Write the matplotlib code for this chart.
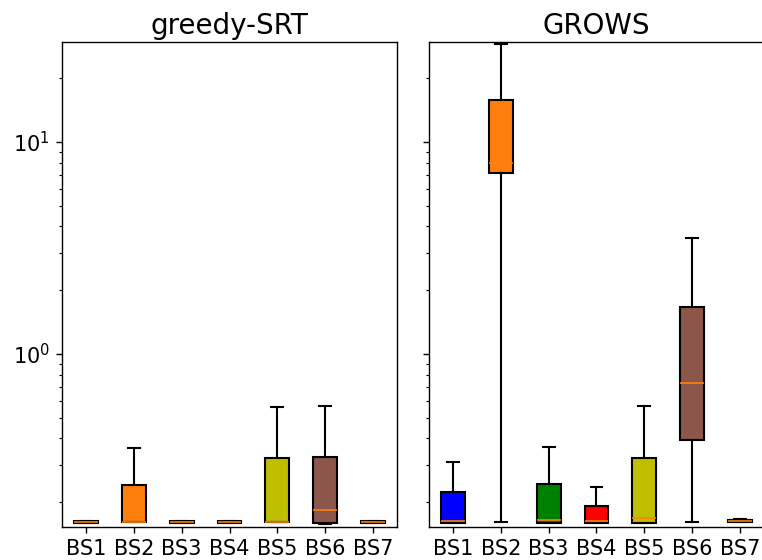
import matplotlib
matplotlib.use('Agg')
from matplotlib import pyplot as plt

labels = ['BS1', 'BS2', 'BS3', 'BS4', 'BS5', 'BS6', 'BS7']
colors = ['b', 'C1', 'g', 'r', 'y', 'C5', 'C1']

# whislo, q1, med, q3, whishi for every station
greedy_lo = [0.160, 0.161, 0.160, 0.160, 0.161, 0.158, 0.160]
greedy_q1 = [0.160, 0.161, 0.160, 0.160, 0.161, 0.160, 0.160]
greedy_med = [0.162, 0.161, 0.161, 0.161, 0.161, 0.184, 0.161]
greedy_q3 = [0.164, 0.241, 0.163, 0.163, 0.323, 0.327, 0.163]
greedy_hi = [0.164, 0.360, 0.163, 0.163, 0.562, 0.568, 0.163]

grows_lo = [0.160, 0.161, 0.160, 0.160, 0.160, 0.161, 0.161]
grows_q1 = [0.160, 7.14, 0.160, 0.160, 0.160, 0.393, 0.161]
grows_med = [0.163, 7.96, 0.166, 0.164, 0.168, 0.730, 0.163]
grows_q3 = [0.223, 15.8, 0.244, 0.192, 0.323, 1.667, 0.166]
grows_hi = [0.310, 29.0, 0.364, 0.236, 0.568, 3.52, 0.167]


def make_stats(lo, q1, med, q3, hi):
    stats = []
    for i in range(len(labels)):
        stats.append({'label': labels[i], 'whislo': lo[i], 'q1': q1[i],
                      'med': med[i], 'q3': q3[i], 'whishi': hi[i], 'fliers': []})
    return stats


fig = plt.figure(figsize=(7.62, 5.6), dpi=100)
ax1 = fig.add_axes([0.0814, 0.0589, 0.4396, 0.866])
ax2 = fig.add_axes([0.563, 0.0589, 0.4396, 0.866], sharey=ax1)

panels = [
    (ax1, 'greedy-SRT', make_stats(greedy_lo, greedy_q1, greedy_med, greedy_q3, greedy_hi)),
    (ax2, 'GROWS', make_stats(grows_lo, grows_q1, grows_med, grows_q3, grows_hi)),
]

for ax, title, stats in panels:
    bp = ax.bxp(stats, patch_artist=True, showfliers=False,
                boxprops=dict(linewidth=1.5, edgecolor='black'),
                whiskerprops=dict(linewidth=1.5),
                capprops=dict(linewidth=1.5),
                medianprops=dict(color='C1', linewidth=1.2))
    for patch, c in zip(bp['boxes'], colors):
        patch.set_facecolor(c)
    ax.set_yscale('log')
    ax.set_title(title, fontsize=20)
    ax.tick_params(labelsize=15, length=4.4, width=1.0, pad=4.4)
    ax.tick_params(which='minor', length=2.5, width=0.8)
    for sp in ax.spines.values():
        sp.set_linewidth(1.0)
    ax.set_xlim(0.5, 7.5)

ax1.set_ylim(0.153, 29.6)
plt.setp(ax2.get_yticklabels(), visible=False)
ax2.spines['right'].set_visible(False)

fig.savefig('out.png', dpi=100)
